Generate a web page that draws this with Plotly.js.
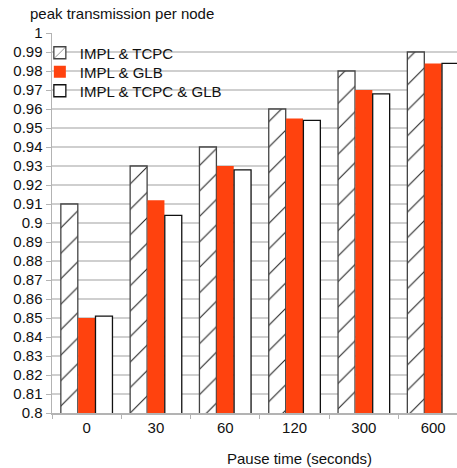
<!DOCTYPE html>
<html>
<head>
<meta charset="utf-8">
<script src="https://cdn.plot.ly/plotly-3.0.1.min.js"></script>
<style>html,body{margin:0;padding:0;background:#fff;} #chart{width:457px;height:468px;}</style>
</head>
<body>
<div id="chart"></div>
<script>
const categories = ["0", "30", "60", "120", "300", "600"];
const seriesNames = ["IMPL & TCPC", "IMPL & GLB", "IMPL & TCPC & GLB"];
const implTcpc = [0.91, 0.93, 0.94, 0.96, 0.98, 0.99];
const implGlb = [0.85, 0.912, 0.93, 0.955, 0.97, 0.984];
const implTcpcGlb = [0.851, 0.904, 0.928, 0.954, 0.968, 0.984];
const yTicks = [0.8,0.81,0.82,0.83,0.84,0.85,0.86,0.87,0.88,0.89,0.9,0.91,0.92,0.93,0.94,0.95,0.96,0.97,0.98,0.99,1];
const yTickLabels = ["0.8","0.81","0.82","0.83","0.84","0.85","0.86","0.87","0.88","0.89","0.9","0.91","0.92","0.93","0.94","0.95","0.96","0.97","0.98","0.99","1"];

const W = 457, H = 468;
const L = 52, T = 33, B = 55;
const plotW = W - L, plotH = H - T - B;
const catW = 69.3;
const font = {family: "Liberation Sans, Arial, sans-serif", size: 15, color: "#111"};

const traces = [
  {type: "bar", name: seriesNames[0], x: categories, y: implTcpc, legend: "legend",
   marker: {color: "white", line: {color: "#444", width: 1.3},
            pattern: {shape: "/", fgcolor: "#222", bgcolor: "white", size: 18, solidity: 0.06}}},
  {type: "bar", name: seriesNames[1], x: categories, y: implGlb, legend: "legend2",
   marker: {color: "#ff420e", line: {color: "#ff420e", width: 0}}},
  {type: "bar", name: seriesNames[2], x: categories, y: implTcpcGlb, legend: "legend3",
   marker: {color: "white", line: {color: "#111", width: 1.3}}}
];

function legendAt(yPix) {
  return {x: -0.03, y: (H - B - yPix) / plotH, xanchor: "left", yanchor: "middle",
          bgcolor: "rgba(0,0,0,0)", font: font, itemwidth: 30};
}

const layout = {
  width: W, height: H,
  margin: {l: L, r: 0, t: T, b: B, pad: 0},
  paper_bgcolor: "white", plot_bgcolor: "white",
  barmode: "group", bargap: 0.25, bargroupgap: 0.02,
  font: font,
  showlegend: true,
  legend: legendAt(53),
  legend2: legendAt(72),
  legend3: legendAt(91),
  xaxis: {type: "category", range: [-0.5, -0.5 + plotW / catW],
          showgrid: false, showline: true, linecolor: "#b3b3b3", linewidth: 1.5,
          ticks: "outside", tickson: "boundaries", ticklen: 4, tickcolor: "#b3b3b3",
          tickfont: font, zeroline: false, fixedrange: true},
  yaxis: {range: [0.8, 1], tickvals: yTicks, ticktext: yTickLabels,
          showgrid: true, gridcolor: "#cfcfcf", gridwidth: 1.5,
          showline: true, linecolor: "#b3b3b3", linewidth: 1.5,
          ticks: "outside", ticklen: 5, tickcolor: "#b3b3b3",
          tickfont: font, zeroline: false, fixedrange: true},
  annotations: [
    {text: "peak transmission per node", xref: "paper", yref: "paper",
     x: (28 - L) / plotW, y: (H - B - 13) / plotH, xanchor: "left", yanchor: "middle",
     showarrow: false, font: font},
    {text: "Pause time (seconds)", xref: "paper", yref: "paper",
     x: (299 - L) / plotW, y: (H - B - 458) / plotH, xanchor: "center", yanchor: "middle",
     showarrow: false, font: font}
  ]
};

Plotly.newPlot("chart", traces, layout, {displayModeBar: false, staticPlot: true});
</script>
</body>
</html>
